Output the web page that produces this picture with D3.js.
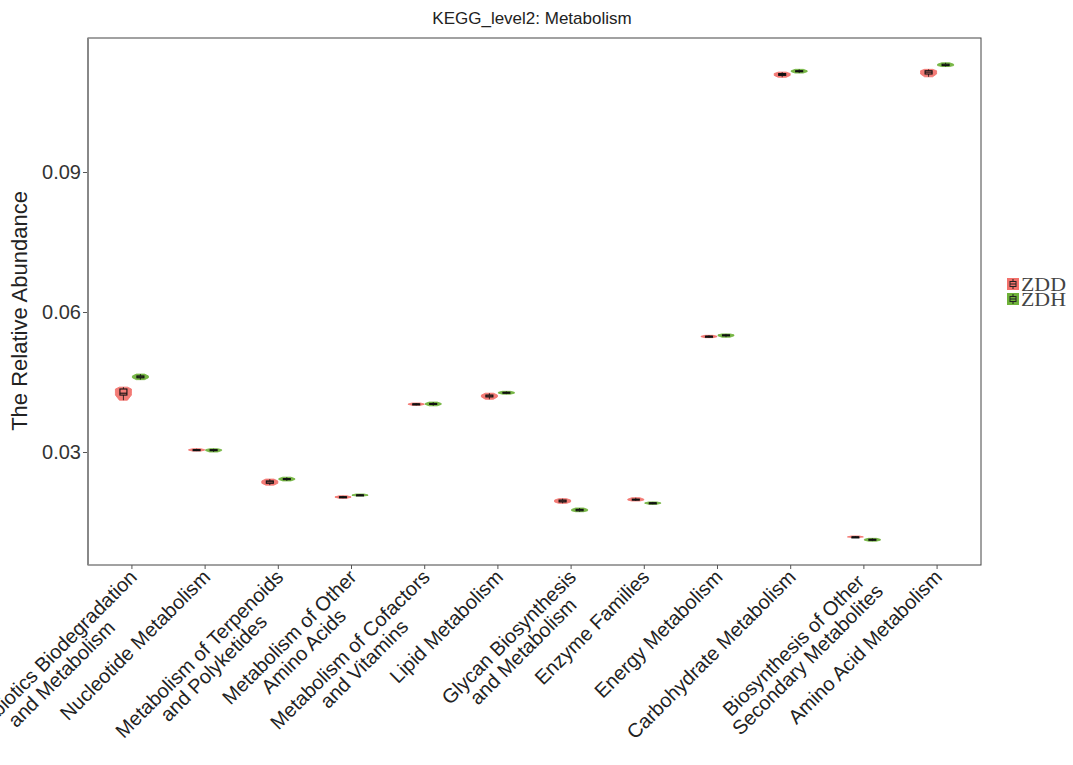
<!DOCTYPE html>
<html>
<head>
<meta charset="utf-8">
<script src="https://cdn.jsdelivr.net/npm/d3@7"></script>
<style>
  html, body { margin: 0; padding: 0; background: #fff; }
  svg { display: block; }
</style>
</head>
<body>
<svg id="chart" width="1073" height="765"></svg>
<script>
const categories = [
  ["Xenobiotics Biodegradation", "and Metabolism"],
  ["Nucleotide Metabolism"],
  ["Metabolism of Terpenoids", "and Polyketides"],
  ["Metabolism of Other", "Amino Acids"],
  ["Metabolism of Cofactors", "and Vitamins"],
  ["Lipid Metabolism"],
  ["Glycan Biosynthesis", "and Metabolism"],
  ["Enzyme Families"],
  ["Energy Metabolism"],
  ["Carbohydrate Metabolism"],
  ["Biosynthesis of Other", "Secondary Metabolites"],
  ["Amino Acid Metabolism"]
];
const groups = ["ZDD", "ZDH"];
const yTicks = [0.03, 0.06, 0.09];

// ZDD (red) five-number summaries
const zddMin = [0.0411, 0.0302, 0.0229, 0.0201, 0.0400, 0.0413, 0.0190, 0.0195, 0.0545, 0.1103, 0.0117, 0.1104];
const zddQ1  = [0.0422, 0.0304, 0.0233, 0.0203, 0.0402, 0.0418, 0.0193, 0.0197, 0.0547, 0.1107, 0.0118, 0.1110];
const zddMed = [0.0426, 0.0305, 0.0236, 0.0204, 0.0403, 0.0420, 0.0195, 0.0198, 0.0548, 0.1109, 0.0118, 0.1114];
const zddQ3  = [0.0435, 0.0305, 0.0238, 0.0204, 0.0403, 0.0422, 0.0197, 0.0199, 0.0548, 0.1111, 0.0118, 0.1117];
const zddMax = [0.0439, 0.0307, 0.0242, 0.0206, 0.0405, 0.0426, 0.0200, 0.0202, 0.0550, 0.1114, 0.0120, 0.1120];

// ZDH (green) five-number summaries
const zdhMin = [0.0455, 0.0300, 0.0238, 0.0206, 0.0399, 0.0424, 0.0172, 0.0188, 0.0546, 0.1112, 0.0109, 0.1126];
const zdhQ1  = [0.0459, 0.0303, 0.0241, 0.0207, 0.0402, 0.0426, 0.0174, 0.0190, 0.0549, 0.1115, 0.0111, 0.1128];
const zdhMed = [0.0461, 0.0304, 0.0242, 0.0208, 0.0403, 0.0427, 0.0176, 0.0191, 0.0550, 0.1116, 0.0112, 0.1129];
const zdhQ3  = [0.0463, 0.0305, 0.0243, 0.0208, 0.0404, 0.0428, 0.0177, 0.0191, 0.0551, 0.1117, 0.0113, 0.1131];
const zdhMax = [0.0467, 0.0307, 0.0246, 0.0210, 0.0407, 0.0430, 0.0180, 0.0193, 0.0553, 0.1120, 0.0115, 0.1134];

const colors = { ZDD: "#F2716B", ZDH: "#6FB23A" };

const svg = d3.select("#chart");
const M = { left: 88, right: 981, top: 38, bottom: 565 };
const sans = "Liberation Sans, Arial, sans-serif";

const x = d3.scaleBand().domain(d3.range(categories.length)).range([M.left, M.right]).paddingOuter(0.1).paddingInner(0);
const y = d3.scaleLinear().domain([0.03, 0.09]).range([452, 172]);

// title
svg.append("text").attr("x", 532).attr("y", 24).attr("text-anchor", "middle")
  .attr("font-family", sans).attr("font-size", 17).attr("fill", "#222")
  .text("KEGG_level2: Metabolism");

// panel
svg.append("rect").attr("x", M.left).attr("y", M.top).attr("width", M.right - M.left).attr("height", M.bottom - M.top)
  .attr("fill", "none").attr("stroke", "#444").attr("stroke-width", 1);
svg.append("line").attr("x1", M.left).attr("x2", M.left).attr("y1", M.top).attr("y2", M.bottom)
  .attr("stroke", "#888").attr("stroke-width", 2);

// y axis
const yAxis = d3.axisLeft(y).tickValues(yTicks).tickSize(4).tickFormat(d3.format(".2f"));
const ya = svg.append("g").attr("transform", `translate(${M.left - 1},0)`).call(yAxis);
ya.select(".domain").remove();
ya.selectAll(".tick line").attr("stroke", "#555");
ya.selectAll(".tick text").attr("font-family", sans).attr("font-size", 20).attr("fill", "#333").attr("x", -6);

svg.append("text").attr("transform", "translate(27,311) rotate(-90)").attr("text-anchor", "middle")
  .attr("font-family", sans).attr("font-size", 22).attr("fill", "#222")
  .text("The Relative Abundance");

// x axis ticks and labels (lines centred within the block, block right-aligned to tick)
const xa = svg.append("g");
const fs = 20;
categories.forEach((lines, i) => {
  const cx = x(i) + x.bandwidth() / 2;
  xa.append("line").attr("x1", cx).attr("x2", cx).attr("y1", M.bottom).attr("y2", M.bottom + 4).attr("stroke", "#555");
  const g = xa.append("g").attr("transform", `translate(${cx - 5},${M.bottom + 2}) rotate(-45)`);
  const texts = lines.map((ln, j) => g.append("text")
    .attr("y", fs * 0.8 + j * fs * 1.0)
    .attr("text-anchor", "middle").attr("font-family", sans).attr("font-size", fs).attr("fill", "#222").text(ln));
  const W = d3.max(texts, t => t.node().getComputedTextLength());
  texts.forEach(t => t.attr("x", -W / 2));
});

// violins + boxes
const profile = [0.5, 1, 1, 1, 0.5];
const halfW = 8;
const dodge = 8.5;
const boxHalf = 3.5;
const series = [
  { name: "ZDD", min: zddMin, q1: zddQ1, med: zddMed, q3: zddQ3, max: zddMax, off: -dodge },
  { name: "ZDH", min: zdhMin, q1: zdhQ1, med: zdhMed, q3: zdhQ3, max: zdhMax, off: dodge }
];
const marks = svg.append("g");
series.forEach(s => {
  categories.forEach((c, i) => {
    const cx = x(i) + x.bandwidth() / 2 + s.off;
    const vals = [s.min[i], s.q1[i], s.med[i], s.q3[i], s.max[i]];
    const pts = vals.map((v, k) => ({ v, w: profile[k] * halfW }));
    const area = d3.area().y(d => y(d.v)).x0(d => cx - d.w).x1(d => cx + d.w).curve(d3.curveLinear);
    marks.append("path").attr("d", area(pts)).attr("fill", colors[s.name]).attr("fill-opacity", 0.92)
      .attr("stroke", colors[s.name]).attr("stroke-width", 0.8);
    // whiskers
    marks.append("line").attr("x1", cx).attr("x2", cx).attr("y1", y(s.min[i])).attr("y2", y(s.q1[i])).attr("stroke", "#111").attr("stroke-width", 0.8);
    marks.append("line").attr("x1", cx).attr("x2", cx).attr("y1", y(s.q3[i])).attr("y2", y(s.max[i])).attr("stroke", "#111").attr("stroke-width", 0.8);
    const top = y(s.q3[i]), bot = y(s.q1[i]);
    marks.append("rect").attr("x", cx - boxHalf).attr("y", top).attr("width", boxHalf * 2).attr("height", Math.max(bot - top, 1))
      .attr("fill", "none").attr("stroke", "#111").attr("stroke-width", 1.1);
    marks.append("line").attr("x1", cx - boxHalf).attr("x2", cx + boxHalf).attr("y1", y(s.med[i])).attr("y2", y(s.med[i]))
      .attr("stroke", "#111").attr("stroke-width", 1.1);
  });
});

// legend
const lg = svg.append("g");
groups.forEach((g, i) => {
  const ky = 278 + i * 15;
  lg.append("rect").attr("x", 1007).attr("y", ky).attr("width", 12).attr("height", 12).attr("fill", colors[g]);
  lg.append("rect").attr("x", 1010).attr("y", ky + 3.5).attr("width", 6).attr("height", 5).attr("fill", "none").attr("stroke", "#222").attr("stroke-width", 1);
  lg.append("line").attr("x1", 1010).attr("x2", 1016).attr("y1", ky + 6).attr("y2", ky + 6).attr("stroke", "#222");
  lg.append("line").attr("x1", 1013).attr("x2", 1013).attr("y1", ky + 1).attr("y2", ky + 3.5).attr("stroke", "#222");
  lg.append("line").attr("x1", 1013).attr("x2", 1013).attr("y1", ky + 8.5).attr("y2", ky + 11).attr("stroke", "#222");
  lg.append("text").attr("x", 1021).attr("y", ky + 13).attr("font-family", "Liberation Serif, Times New Roman, serif")
    .attr("font-size", 19).attr("textLength", 45).attr("lengthAdjust", "spacingAndGlyphs").attr("fill", "#444").text(g);
});
</script>
</body>
</html>
